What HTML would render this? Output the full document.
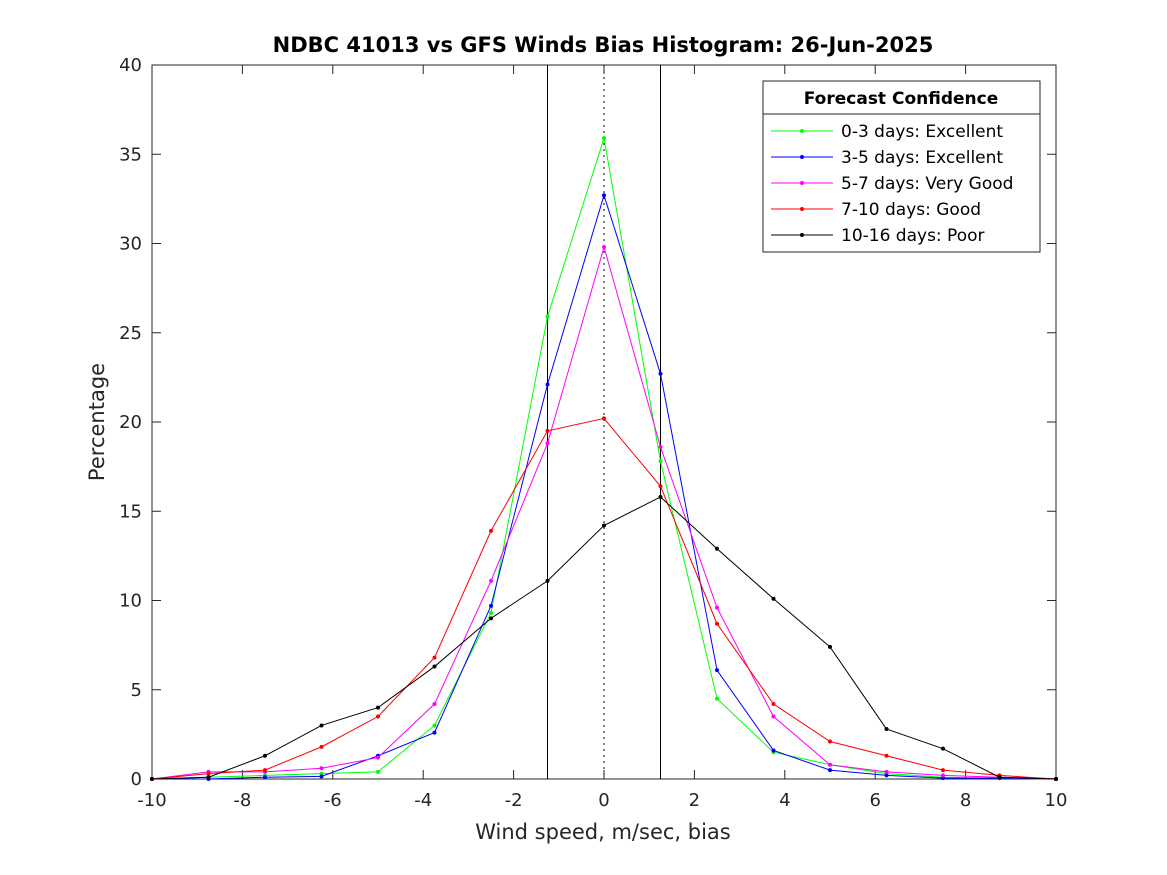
<!DOCTYPE html>
<html><head><meta charset="utf-8"><style>
html,body{margin:0;padding:0;background:#fff;}
svg{display:block;font-family:"DejaVu Sans","Liberation Sans",sans-serif;}
</style></head><body>
<svg id="chart" width="1167" height="875" xmlns="http://www.w3.org/2000/svg">
<rect width="1167" height="875" fill="#fff"/>
<text x="603" y="52" text-anchor="middle" font-size="21" font-weight="bold" fill="#000">NDBC 41013 vs GFS Winds Bias Histogram: 26-Jun-2025</text>
<rect x="152" y="65" width="904" height="714" fill="none" stroke="#262626" stroke-width="1"/>
<g id="ticks"></g>
<g id="vlines"></g>
<g id="series"></g>
<text x="603" y="839" text-anchor="middle" font-size="21" fill="#262626">Wind speed, m/sec, bias</text>
<text transform="translate(104,422) rotate(-90)" text-anchor="middle" font-size="21" fill="#262626">Percentage</text>
<g id="legend">
<rect x="763" y="81" width="277" height="171" fill="#fff" stroke="#262626"/>
<line x1="763" y1="114" x2="1040" y2="114" stroke="#262626"/>
<text x="901" y="104" text-anchor="middle" font-size="17" font-weight="bold" fill="#000">Forecast Confidence</text>
</g>
</svg>
<script>
const xValues=[-10,-8.75,-7.5,-6.25,-5,-3.75,-2.5,-1.25,0,1.25,2.5,3.75,5,6.25,7.5,8.75,10];
const green=[0,0.1,0.2,0.3,0.4,3.0,9.3,25.9,35.9,17.8,4.5,1.5,0.8,0.3,0.1,0.05,0];
const blue=[0,0,0.1,0.15,1.3,2.6,9.7,22.1,32.7,22.7,6.1,1.6,0.5,0.2,0.05,0.05,0];
const magenta=[0,0.4,0.4,0.6,1.2,4.2,11.1,18.8,29.8,18.6,9.6,3.5,0.8,0.4,0.2,0.1,0];
const red=[0,0.3,0.5,1.8,3.5,6.8,13.9,19.5,20.2,16.4,8.7,4.2,2.1,1.3,0.5,0.2,0];
const black=[0,0.1,1.3,3.0,4.0,6.3,9.0,11.1,14.2,15.8,12.9,10.1,7.4,2.8,1.7,0.1,0];
const seriesNames=["0-3 days: Excellent","3-5 days: Excellent","5-7 days: Very Good","7-10 days: Good","10-16 days: Poor"];
const xTicks=[-10,-8,-6,-4,-2,0,2,4,6,8,10];
const yTicks=[0,5,10,15,20,25,30,35,40];
const refLines=[-1.25,0,1.25];

const NS="http://www.w3.org/2000/svg";
const X=v=>152+(v+10)/20*904;
const Y=v=>779-v/40*714;
function mk(tag,attrs,parent){const e=document.createElementNS(NS,tag);for(const k in attrs)e.setAttribute(k,attrs[k]);parent.appendChild(e);return e;}
const ticks=document.getElementById('ticks');
xTicks.forEach(t=>{
  const x=X(t);
  const l=mk('line',{x1:x,x2:x,y1:779,y2:770,stroke:'#262626'},ticks);
  
  
  mk('line',{x1:x,x2:x,y1:65,y2:74,stroke:'#262626'},ticks);
  const tx=mk('text',{x:x,y:806,'text-anchor':'middle','font-size':'18',fill:'#262626'},ticks);
  tx.textContent=String(t);
  
  
});
yTicks.forEach(t=>{
  const y=Y(t);
  const l=mk('line',{x1:152,x2:161,y1:y,y2:y,stroke:'#262626'},ticks);
  
  
  mk('line',{x1:1047,x2:1056,y1:y,y2:y,stroke:'#262626'},ticks);
  const tx=mk('text',{x:142,y:y+6,'text-anchor':'end','font-size':'18',fill:'#262626'},ticks);
  tx.textContent=String(t);
  
  
});
const vl=document.getElementById('vlines');
refLines.forEach(v=>{
  const a={x1:X(v),x2:X(v),y1:65,y2:779,stroke:'#000','stroke-width':1};
  if(v===0)a['stroke-dasharray']='2,4';
  const l=mk('line',a,vl);
  
  
});
const all=[green,blue,magenta,red,black];
const colors=['#00ff00','#0000ff','#ff00ff','#ff0000','#000000'];
const sg=document.getElementById('series');
const lg=document.getElementById('legend');
all.forEach((vals,i)=>{
  const g=mk('g',{},sg);
  
  
  const pts=vals.map((v,j)=>X(xValues[j])+','+Y(v)).join(' ');
  mk('polyline',{points:pts,fill:'none',stroke:colors[i],'stroke-width':1},g);
  vals.forEach((v,j)=>{
    const c=mk('circle',{cx:X(xValues[j]),cy:Y(v),r:2,fill:colors[i]},g);
    
    
  });
  const y=131+i*26;
  const e=mk('g',{},lg);
  
  
  mk('line',{x1:771,x2:833,y1:y,y2:y,stroke:colors[i]},e);
  mk('circle',{cx:802,cy:y,r:2,fill:colors[i]},e);
  const t=mk('text',{x:841,y:y+6,'font-size':'17',fill:'#000'},e);
  t.textContent=seriesNames[i];
});
</script>
</body></html>
